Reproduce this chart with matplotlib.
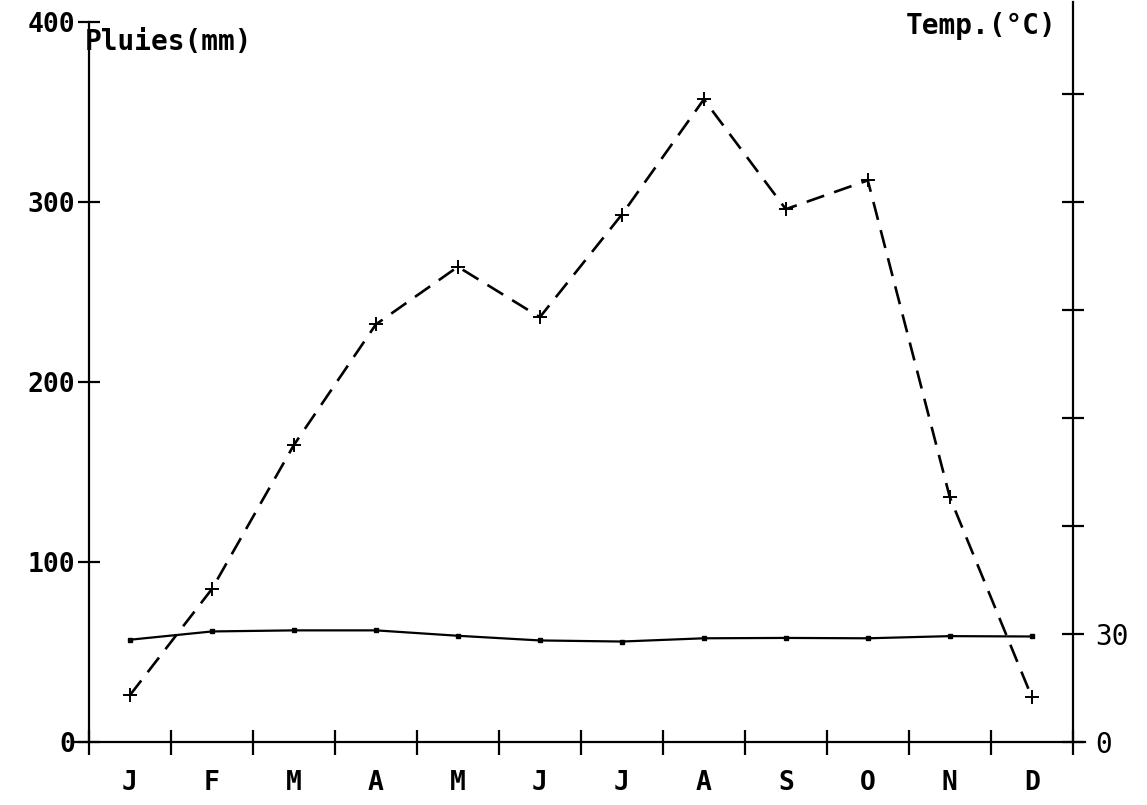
import numpy as np
from matplotlib import pyplot as plt

months = ['J', 'F', 'M', 'A', 'M', 'J', 'J', 'A', 'S', 'O', 'N', 'D']
rain = [26, 85, 165, 232, 264, 236, 293, 357, 296, 312, 136, 25]
temp = [28.4, 30.7, 31.0, 31.0, 29.5, 28.2, 27.9, 28.8, 28.9, 28.8, 29.4, 29.3]
rain_ticks = [0, 100, 200, 300, 400]
temp_ticks = [0, 30, 60, 90, 120, 150, 180]
temp_labels = ['0', '30', '', '', '', '', '']


def main():
    mono = 'DejaVu Sans Mono'
    fig = plt.figure(figsize=(11.47, 8.05), dpi=100)
    ax = fig.add_axes([0.0654, 0.0783, 0.8806, 0.919])
    x = np.arange(len(months)) + 0.5

    ax.set_xlim(-0.17, 12.15)
    ax.set_ylim(0, 411)
    for s in ['top', 'right']:
        ax.spines[s].set_visible(False)
    ax.spines['left'].set_position(('data', 0))
    ax.spines['left'].set_bounds(0, 400)
    for s in ['left', 'bottom']:
        ax.spines[s].set_linewidth(1.6)

    ax.set_xticks(np.arange(0, 13))
    ax.set_xticklabels([])
    ax.set_xticks(x, minor=True)
    ax.set_xticklabels(months, minor=True, fontfamily=mono, fontweight='bold', fontsize=19)
    ax.tick_params(axis='x', which='major', direction='inout', length=18, width=1.6)
    ax.tick_params(axis='x', which='minor', length=0, pad=20)

    ax.set_yticks(rain_ticks)
    ax.set_yticklabels([str(v) for v in rain_ticks], fontfamily=mono, fontweight='bold', fontsize=19)
    ax.tick_params(axis='y', direction='inout', length=16, width=1.6, pad=2)

    ax.plot(x, rain, color='black', lw=1.9, dashes=(7, 4), marker='+', ms=10, mew=1.4)

    ax2 = ax.twinx()
    ax2.set_ylim(0, 205.5)
    for s in ['top', 'left', 'bottom']:
        ax2.spines[s].set_visible(False)
    ax2.spines['right'].set_position(('data', 12))
    ax2.spines['right'].set_linewidth(1.6)
    ax2.set_yticks(temp_ticks)
    ax2.set_yticklabels(temp_labels, fontfamily=mono, fontsize=20)
    ax2.tick_params(axis='y', direction='inout', length=16, width=1.6, pad=8)

    ax2.plot(x, temp, color='black', lw=1.6, marker='s', ms=3.5)

    ax.text(-0.05, 389, 'Pluies(mm)', fontfamily=mono, fontweight='bold', fontsize=20,
            ha='left', va='center')
    ax.text(11.8, 398, 'Temp.(°C)', fontfamily=mono, fontweight='bold', fontsize=20,
            ha='right', va='center')

    fig.savefig('out.png', dpi=100)


if __name__ == "__main__":
    main()
